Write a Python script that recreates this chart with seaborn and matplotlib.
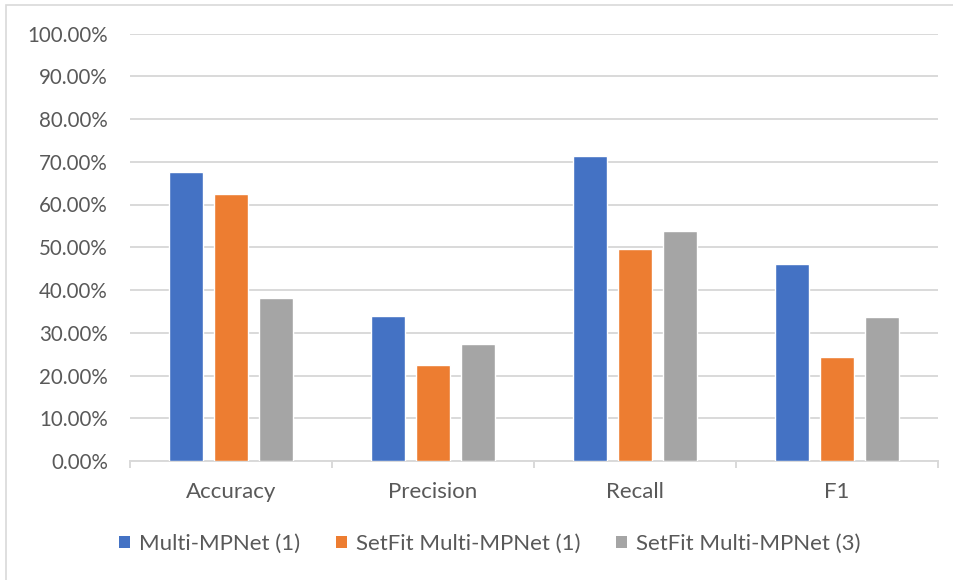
import matplotlib
matplotlib.use("Agg")
import matplotlib.pyplot as plt
import matplotlib.patches as mpatches
from matplotlib.ticker import FixedLocator, FuncFormatter
import seaborn as sns
import pandas as pd

# Evaluation results per metric and model
metrics = ["Accuracy", "Precision", "Recall", "F1"]
models = ["Multi-MPNet (1)", "SetFit Multi-MPNet (1)", "SetFit Multi-MPNet (3)"]
multi_mpnet_1 = [0.675, 0.340, 0.713, 0.460]
setfit_mpnet_1 = [0.625, 0.225, 0.496, 0.244]
setfit_mpnet_3 = [0.382, 0.274, 0.538, 0.336]
colors = ["#4472C4", "#ED7D31", "#A5A5A5"]

rows = []
for model, vals in zip(models, [multi_mpnet_1, setfit_mpnet_1, setfit_mpnet_3]):
    for metric, v in zip(metrics, vals):
        rows.append({"Metric": metric, "Model": model, "Score": v})
df = pd.DataFrame(rows)

sns.set_theme(style="white")
plt.rcParams["font.family"] = ["Lato", "DejaVu Sans"]
text_color = "#595959"
grid_color = "#D9D9D9"
fs_y = 14.8
fs = 16

W, H = 954, 580
fig = plt.figure(figsize=(W / 100, H / 100), dpi=100)
fig.patch.set_facecolor("white")

# light chart-area frame (left and top edges visible)
fig.add_artist(mpatches.Rectangle((6 / W, -0.05), 1.2, 1 - 5 / H + 0.05,
                                  transform=fig.transFigure, fill=False,
                                  edgecolor="#D9D9D9", linewidth=1.2))

ax = fig.add_axes([130 / W, (H - 461) / H, (938 - 130) / W, (461 - 33.5) / H])

sns.barplot(data=df, x="Metric", y="Score", hue="Model", order=metrics,
            hue_order=models, palette=colors, width=0.668, gap=0.24,
            saturation=1, errorbar=None, ax=ax, legend=False, zorder=3)

ax.set_ylim(0, 1.0)
ax.set_xlim(-0.5, 3.5)
ax.set_yticks([i / 10 for i in range(11)])
ax.yaxis.set_major_formatter(FuncFormatter(lambda v, p: f"{v * 100:.2f}%"))
ax.grid(axis="y", color=grid_color, linewidth=1.4, zorder=0)
ax.set_axisbelow(True)
ax.set_xlabel("")
ax.set_ylabel("")

for s in ["top", "right", "left"]:
    ax.spines[s].set_visible(False)
ax.spines["bottom"].set_color(grid_color)
ax.spines["bottom"].set_linewidth(1.4)

ax.tick_params(axis="y", length=0, pad=16, labelsize=fs_y, labelcolor=text_color)
ax.tick_params(axis="x", which="major", length=0, pad=15, labelsize=fs,
               labelcolor=text_color)
ax.xaxis.set_minor_locator(FixedLocator([-0.5, 0.5, 1.5, 2.5, 3.5]))
ax.tick_params(axis="x", which="minor", length=5, width=1.4, color=grid_color,
               bottom=True)

handles = [mpatches.Patch(facecolor=c, edgecolor="none") for c in colors]
fig.legend(handles, models, loc="center", bbox_to_anchor=(490 / W, (H - 544) / H),
           ncol=3, frameon=False, fontsize=fs, labelcolor=text_color,
           handlelength=0.5, handleheight=0.5, handletextpad=0.4,
           columnspacing=1.6, borderpad=0)

fig.savefig("out.png", dpi=100, facecolor="white")
